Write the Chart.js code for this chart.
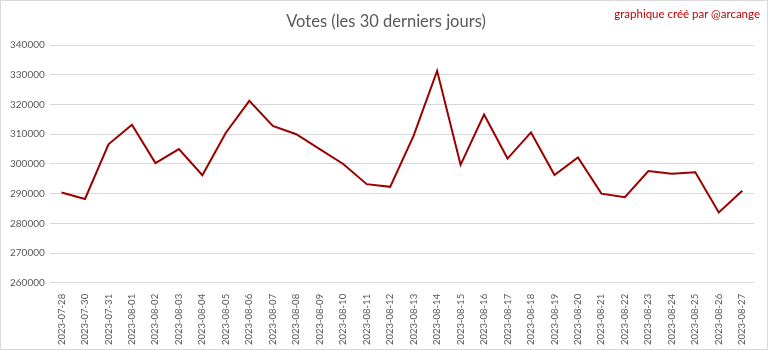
<!DOCTYPE html>
<html>
<head>
<meta charset="utf-8">
<script src="https://cdn.jsdelivr.net/npm/chart.js@4/dist/chart.umd.min.js"></script>
<style>
  body { margin: 0; background: #fff; }
  #wrap { position: relative; width: 766px; height: 348px; border: 1px solid #d9d9d9; }
  #title { position: absolute; left: 0; top: 10px; width: 770px; text-align: center; font: 16.5px Lato, sans-serif; color: #595959; }
  #credit { position: absolute; right: 7px; top: 6px; font: 11.5px Lato, sans-serif; color: #c00000; }
</style>
</head>
<body>
<div id="wrap">
  <canvas id="myChart" width="766" height="348"></canvas>
  <div id="title">Votes (les 30 derniers jours)</div>
  <div id="credit">graphique créé par @arcange</div>
</div>
<script>
const dates = [
  "2023-07-28", "2023-07-30", "2023-07-31", "2023-08-01", "2023-08-02",
  "2023-08-03", "2023-08-04", "2023-08-05", "2023-08-06", "2023-08-07",
  "2023-08-08", "2023-08-09", "2023-08-10", "2023-08-11", "2023-08-12",
  "2023-08-13", "2023-08-14", "2023-08-15", "2023-08-16", "2023-08-17",
  "2023-08-18", "2023-08-19", "2023-08-20", "2023-08-21", "2023-08-22",
  "2023-08-23", "2023-08-24", "2023-08-25", "2023-08-26", "2023-08-27",
];

const votes = [
  290400, 288200, 306600, 313200, 300300,
  305000, 296200, 310500, 321200, 312800,
  310000, 305000, 300000, 293200, 292300,
  309500, 331300, 299700, 316600, 301800,
  310600, 296300, 302200, 290000, 288800,
  297600, 296700, 297200, 283700, 291000,
];

const yMin = 260000;
const yMax = 340000;
const yStep = 10000;

const ctx = document.getElementById("myChart").getContext("2d");
// title is the html div above, chart just leaves room for it
const myChart = new Chart(ctx, {
  type: "line",
  data: {
    labels: dates,
    datasets: [
      {
        label: "Votes",
        data: votes,
        borderColor: "#9b0000",
        borderWidth: 2,
        pointRadius: 0,
        tension: 0,
        fill: false,
      },
    ],
  },
  options: {
    responsive: false,
    animation: false,
    layout: { padding: { left: 4, right: 13, top: 44, bottom: 1 } },
    scales: {
      x: {
        offset: true,
        grid: { display: false },
        border: { display: false },
        ticks: {
          color: "#595959",
          font: { family: "Lato", size: 9.5 },
          maxRotation: 90,
          minRotation: 90,
          autoSkip: false,
          padding: 3,
        },
      },
      y: {
        min: yMin,
        max: yMax,
        border: { display: false },
        grid: { color: "#d9d9d9", lineWidth: 1, drawTicks: false },
        ticks: {
          stepSize: yStep,
          color: "#595959",
          padding: 5,
          font: { family: "Lato", size: 10 },
          callback: (v) => String(v),
        },
      },
    },
    plugins: {
      legend: { display: false },
      tooltip: { enabled: false },
      title: { display: false },
    },
  },
});
</script>
</body>
</html>
